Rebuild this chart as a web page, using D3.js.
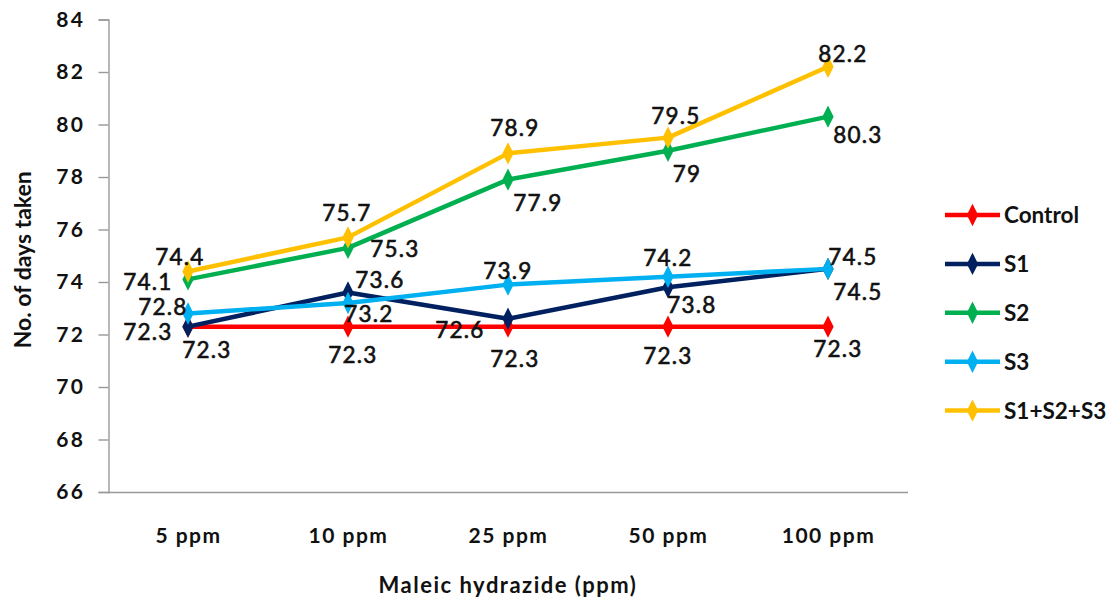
<!DOCTYPE html>
<html>
<head>
<meta charset="utf-8">
<script src="https://cdn.jsdelivr.net/npm/d3@7"></script>
<style>
  html, body { margin: 0; padding: 0; background: #fff; }
  svg { display: block; }
  text { font-family: Lato, "Open Sans", sans-serif; fill: #111; }
</style>
</head>
<body>
<svg id="chart" width="1115" height="605"></svg>
<script>
// ---- data ----
const categories = ["5 ppm", "10 ppm", "25 ppm", "50 ppm", "100 ppm"];
const seriesNames = ["Control", "S1", "S2", "S3", "S1+S2+S3"];
const controlValues = [72.3, 72.3, 72.3, 72.3, 72.3];
const s1Values = [72.3, 73.6, 72.6, 73.8, 74.5];
const s2Values = [74.1, 75.3, 77.9, 79, 80.3];
const s3Values = [72.8, 73.2, 73.9, 74.2, 74.5];
const s123Values = [74.4, 75.7, 78.9, 79.5, 82.2];
const yTicks = [66, 68, 70, 72, 74, 76, 78, 80, 82, 84];
const yTitle = "No. of days taken";
const xTitle = "Maleic hydrazide (ppm)";

// ---- styles (kept apart from data) ----
const colors = ["#FF0000", "#002060", "#00B050", "#00B0F0", "#FFC000"];
// label offsets (dx, dy of label centre from its point) per series
const labelOffsets = [
  [[19, 23], [5, 28], [7, 32], [0, 29], [10, 22]],
  [[-40, 5], [32, -13], [-48, 11], [24, 18], [30, 23]],
  [[-40, 3], [47, 1], [30, 23], [19, 23], [30, 18]],
  [[-25, -7], [21, 11], [0, -14], [0, -19], [25, -12]],
  [[-8, -15], [-1, -24], [7, -25], [8, -22], [15, -13]]
];

const allValues = [controlValues, s1Values, s2Values, s3Values, s123Values];
const series = seriesNames.map((name, i) => ({
  name, color: colors[i], offsets: labelOffsets[i],
  values: allValues[i].map((v, j) => ({ cat: categories[j], v }))
}));

const svg = d3.select("#chart");
const plotLeft = 108, plotRight = 908, plotTop = 19.5, plotBottom = 492;

const x = d3.scalePoint().domain(categories).range([plotLeft, plotRight]).padding(0.5);
const y = d3.scaleLinear().domain([66, 84]).range([plotBottom, plotTop]);

// Y axis
const yAxis = svg.append("g")
  .attr("transform", `translate(${plotLeft + 0.5},0)`)
  .call(d3.axisLeft(y).tickValues(yTicks).tickSize(10).tickPadding(13).tickFormat(d3.format("d")));
yAxis.select(".domain").attr("stroke", "#999").attr("stroke-width", 1.4);
yAxis.selectAll(".tick line").attr("stroke", "#999").attr("stroke-width", 1.4);
yAxis.selectAll(".tick text")
  .attr("fill", "#111")
  .style("font-family", "Lato, sans-serif")
  .style("font-size", "21px")
  .style("font-weight", "bold")
  .style("letter-spacing", "2.5px");

// X axis
const xAxis = svg.append("g")
  .attr("transform", `translate(0,${plotBottom + 0.5})`)
  .call(d3.axisBottom(x).tickSize(0).tickPadding(36));
xAxis.select(".domain").attr("stroke", "#999").attr("stroke-width", 1.4)
  .attr("d", `M${plotLeft},0H${plotRight}`);
xAxis.selectAll(".tick text")
  .attr("fill", "#111")
  .style("font-family", "Lato, sans-serif")
  .style("font-size", "21px")
  .style("font-weight", "bold")
  .style("letter-spacing", "1.5px");

// Axis titles
svg.append("text")
  .attr("transform", `translate(31,${(plotTop + plotBottom) / 2 + 4}) rotate(-90)`)
  .attr("text-anchor", "middle")
  .style("font-size", "23px")
  .style("font-weight", "bold")
  .text(yTitle);

svg.append("text")
  .attr("x", (plotLeft + plotRight) / 2)
  .attr("y", 593)
  .attr("text-anchor", "middle")
  .style("font-size", "22px")
  .style("font-weight", "bold")
  .style("letter-spacing", "1.5px")
  .text(xTitle);

// Lines
const line = d3.line().x(d => x(d.cat)).y(d => y(d.v));
const diamond = d3.symbol().type(d3.symbolDiamond).size(110);

series.forEach(s => {
  const g = svg.append("g");
  g.append("path")
    .datum(s.values)
    .attr("d", line)
    .attr("fill", "none")
    .attr("stroke", s.color)
    .attr("stroke-width", 4.5)
    .attr("stroke-linejoin", "round");
  g.selectAll("path.marker")
    .data(s.values)
    .join("path")
    .attr("class", "marker")
    .attr("d", diamond)
    .attr("transform", d => `translate(${x(d.cat)},${y(d.v)}) scale(1,1.15)`)
    .attr("fill", s.color);
});

// Data labels
series.forEach(s => {
  svg.append("g").selectAll("text")
    .data(s.values)
    .join("text")
    .attr("x", (d, i) => x(d.cat) + s.offsets[i][0])
    .attr("y", (d, i) => y(d.v) + s.offsets[i][1] + 8)
    .attr("text-anchor", "middle")
    .style("font-size", "22.5px")
    .style("letter-spacing", "1.2px")
    .style("stroke", "#111")
    .style("stroke-width", "0.6px")
    .text(d => String(d.v));
});

// Legend
const legendX = 945, legendY0 = 215, legendStep = 48.9;
const lg = svg.append("g");
series.forEach((s, i) => {
  const gy = legendY0 + i * legendStep;
  lg.append("line")
    .attr("x1", legendX).attr("x2", legendX + 55)
    .attr("y1", gy).attr("y2", gy)
    .attr("stroke", s.color).attr("stroke-width", 4.5);
  lg.append("path")
    .attr("d", diamond)
    .attr("transform", `translate(${legendX + 27.5},${gy}) scale(1,1.15)`)
    .attr("fill", s.color);
  lg.append("text")
    .attr("x", legendX + 59)
    .attr("y", gy + 8)
    .style("font-size", "22.5px")
    .style("font-weight", "bold")
    .text(s.name);
});
</script>
</body>
</html>
